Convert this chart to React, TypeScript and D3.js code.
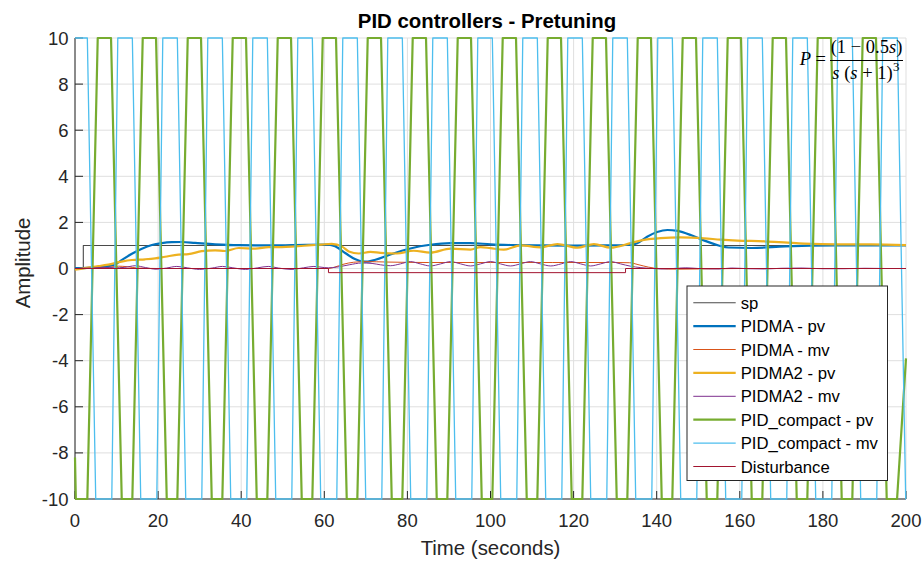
import React from 'react';
import * as d3 from 'd3';

const W = 924;
const H = 561;

const xTicks = [0, 20, 40, 60, 80, 100, 120, 140, 160, 180, 200];
const yTicks = [-10, -8, -6, -4, -2, 0, 2, 4, 6, 8, 10];

const titleText = 'PID controllers - Pretuning';
const xLabel = 'Time (seconds)';
const yLabel = 'Amplitude';

// [time (s), value]
const sp = [[0, 0], [2, 0], [2, 1], [200, 1]];

const pidmaPv = [
  [0, 0.02], [3, 0.03], [6, 0.06], [8, 0.1], [9.6, 0.17], [11.2, 0.36], [13.7, 0.64], [16.1, 0.86],
  [18.5, 1.02], [20.9, 1.1], [23.3, 1.14], [25.7, 1.15], [28.9, 1.11], [33.7, 1.05], [39.4, 1.01],
  [47.4, 1.0], [55.4, 1.03], [61, 1.04], [62.6, 0.97], [65.1, 0.66], [67.5, 0.4], [69.1, 0.31],
  [70.5, 0.3], [72.3, 0.38], [75.9, 0.61], [80.7, 0.87], [85.5, 1.03], [90.4, 1.1], [95.2, 1.1],
  [100, 1.05], [104.8, 1.02], [111, 1.0], [120, 0.99], [128, 1.0], [133.7, 1.03], [135.3, 1.1],
  [137.7, 1.38], [140.1, 1.58], [142.6, 1.67], [145, 1.63], [148.2, 1.45], [150.9, 1.25],
  [154.9, 1.0], [157.3, 0.91], [162.9, 0.89], [170.9, 0.96], [183, 1.0], [200, 1.0],
];

const pidmaMv = [
  [0, 0], [6, 0.01], [8.5, 0.06], [10.5, 0.1], [12.5, 0.08], [15, 0.02], [20, 0], [40, 0], [61, 0],
  [62.5, 0.06], [64.5, 0.18], [67, 0.27], [70, 0.3], [75, 0.28], [85, 0.26], [100, 0.26], [115, 0.26],
  [130, 0.26], [133.5, 0.25], [135.5, 0.17], [138, 0.06], [140.5, 0.0], [145, -0.03], [150, -0.02],
  [160, 0], [200, 0],
];

const pidma2Pv = [
  [0, -0.05], [2.4, 0.02], [5.6, 0.1], [8, 0.17], [11.2, 0.3], [13.7, 0.37], [16.9, 0.4], [19.3, 0.44],
  [21.7, 0.51], [24.9, 0.6], [27.3, 0.62], [30.5, 0.75], [33.7, 0.79], [36.1, 0.76], [39.4, 0.89],
  [43.4, 0.86], [46.6, 0.93], [49.8, 0.93], [53, 0.96], [56.2, 1.0], [59.4, 1.04], [61.8, 1.07],
  [64.3, 0.95], [65.9, 0.74], [68.3, 0.65], [71.1, 0.72], [73.5, 0.68], [77.5, 0.65], [81.5, 0.77],
  [85.5, 0.69], [90.4, 0.86], [95.2, 0.82], [97.6, 0.93], [100, 0.88], [103.2, 0.82], [107.3, 1.0],
  [112.1, 0.92], [116.1, 1.06], [120.9, 0.9], [124.9, 1.06], [128.9, 0.9], [133.7, 1.1], [136.9, 1.24],
  [140.9, 1.32], [145.7, 1.35], [151.4, 1.31], [155.4, 1.25], [159.4, 1.21], [165.9, 1.18],
  [171.5, 1.12], [175.5, 1.08], [183.5, 1.05], [191.6, 1.05], [200, 1.01],
];

const pidma2Mv = [
  [0, 0], [4, 0.02], [7, 0.05], [9.5, 0.03], [12, 0.05], [14.5, 0.12], [17, 0.04], [19.5, -0.03],
  [22, 0.02], [24.5, 0.09], [27, 0.03], [30, -0.04], [33, 0.02], [35.5, 0.09], [38, 0.03], [41, -0.04],
  [44, 0.03], [46.5, 0.09], [49, 0.02], [52, -0.04], [55, 0.03], [57.5, 0.09], [60, 0.04], [61, 0.03],
  [63, 0.06], [66, 0.16], [69, 0.24], [71.5, 0.22], [73.5, 0.16], [75.9, 0.12], [78.3, 0.2], [80.7, 0.3],
  [83.1, 0.2], [85.5, 0.11], [88, 0.2], [90.4, 0.3], [92.8, 0.2], [95.2, 0.11], [97.6, 0.2], [100, 0.3],
  [102.4, 0.2], [104.8, 0.11], [107.2, 0.2], [109.6, 0.3], [112, 0.2], [114.5, 0.11], [117, 0.2],
  [119.3, 0.3], [121.7, 0.2], [124.1, 0.11], [126.5, 0.2], [128.9, 0.3], [131.3, 0.2], [133.7, 0.1],
  [136, 0.04], [139, 0.0], [141, -0.02], [144, 0.0], [147, 0.03], [150, 0.0], [155, -0.02], [158, 0.02],
  [162, -0.01], [166, -0.02], [170, 0.01], [175, 0.02], [180, -0.01], [185, -0.01], [190, 0.01],
  [195, 0.0], [200, 0.0],
];

const compactPv = [
  [0, -8.2], [0.2, -10], [2.97, -10],
  [5.47, 10], [8.67, 10], [11.25, -10], [13.8, -10],
  [16.3, 10], [19.5, 10], [22.08, -10], [24.63, -10],
  [27.13, 10], [30.33, 10], [32.91, -10], [35.46, -10],
  [37.96, 10], [41.16, 10], [43.74, -10], [46.29, -10],
  [48.79, 10], [51.99, 10], [54.57, -10], [57.12, -10],
  [59.62, 10], [62.82, 10], [65.4, -10], [67.95, -10],
  [70.45, 10], [73.65, 10], [76.23, -10], [78.78, -10],
  [81.28, 10], [84.48, 10], [87.06, -10], [89.61, -10],
  [92.11, 10], [95.31, 10], [97.89, -10], [100.44, -10],
  [102.94, 10], [106.14, 10], [108.72, -10], [111.27, -10],
  [113.77, 10], [116.97, 10], [119.55, -10], [122.1, -10],
  [124.6, 10], [127.8, 10], [130.38, -10], [132.93, -10],
  [135.43, 10], [138.63, 10], [141.21, -10], [143.76, -10],
  [146.26, 10], [149.46, 10], [152.04, -10], [154.59, -10],
  [157.09, 10], [160.29, 10], [162.87, -10], [165.42, -10],
  [167.92, 10], [171.12, 10], [173.7, -10], [176.25, -10],
  [178.75, 10], [181.95, 10], [184.53, -10], [187.08, -10],
  [189.58, 10], [192.78, 10], [195.36, -10], [197.85, -10],
  [200, -3.9],
];

const compactMv = [
  [0, 10], [2.97, 10],
  [4.99, -10], [8.85, -10], [10.3, 10], [13.8, 10],
  [15.82, -10], [19.68, -10], [21.13, 10], [24.63, 10],
  [26.65, -10], [30.51, -10], [31.96, 10], [35.46, 10],
  [37.48, -10], [41.34, -10], [42.79, 10], [46.29, 10],
  [48.31, -10], [52.17, -10], [53.62, 10], [57.12, 10],
  [59.14, -10], [63.0, -10], [64.45, 10], [67.95, 10],
  [69.97, -10], [73.83, -10], [75.28, 10], [78.78, 10],
  [80.8, -10], [84.66, -10], [86.11, 10], [89.61, 10],
  [91.63, -10], [95.49, -10], [96.94, 10], [100.44, 10],
  [102.46, -10], [106.32, -10], [107.77, 10], [111.27, 10],
  [113.29, -10], [117.15, -10], [118.6, 10], [122.1, 10],
  [124.12, -10], [127.98, -10], [129.43, 10], [132.93, 10],
  [134.95, -10], [138.81, -10], [140.26, 10], [143.76, 10],
  [145.78, -10], [149.64, -10], [151.09, 10], [154.59, 10],
  [156.61, -10], [160.47, -10], [161.92, 10], [165.42, 10],
  [167.44, -10], [171.3, -10], [172.75, 10], [176.25, 10],
  [178.27, -10], [182.13, -10], [183.58, 10], [187.08, 10],
  [189.1, -10], [192.96, -10], [194.41, 10], [197.91, 10],
  [199.93, -10], [200, -10],
];

const disturbance = [[0, 0], [61, 0], [61, -0.18], [132.5, -0.18], [132.5, 0], [200, 0]];

const seriesNames = [
  'sp', 'PIDMA - pv', 'PIDMA - mv', 'PIDMA2 - pv', 'PIDMA2 - mv',
  'PID_compact - pv', 'PID_compact - mv', 'Disturbance',
];
const seriesData = [sp, pidmaPv, pidmaMv, pidma2Pv, pidma2Mv, compactPv, compactMv, disturbance];
const seriesColors = ['#4a4a4a', '#0072BD', '#D95319', '#EDB120', '#7E2F8E', '#77AC30', '#4DBEEE', '#A2142F'];
const seriesWidths = [1.1, 2.2, 1, 2.2, 1, 2.2, 1.3, 1];
const seriesSmooth = [false, true, true, true, true, false, false, false];

const FONT = '"Liberation Sans", Arial, Helvetica, sans-serif';
const TXT = '#262626';

export default function App() {
  const x = d3.scaleLinear().domain([0, 200]).range([75, 906]);
  const y = d3.scaleLinear().domain([-10, 10]).range([499, 38]);
  const lineLinear = d3.line<number[]>().x((d) => x(d[0])).y((d) => y(d[1]));
  const lineSmooth = d3
    .line<number[]>()
    .x((d) => x(d[0]))
    .y((d) => y(d[1]))
    .curve(d3.curveMonotoneX);

  const [x0, x1] = x.range();
  const [yb, yt] = y.range();

  const legX = 687;
  const legY = 286;
  const legW = 200.5;
  const legH = 194.5;
  const rowH = 23.4;

  return (
    <svg
      width={W}
      height={H}
      viewBox={`0 0 ${W} ${H}`}
      style={{ position: 'absolute', left: 0, top: 0, background: '#fff' }}
      fontFamily={FONT}
    >
      <rect x={0} y={0} width={W} height={H} fill="#fff" />
      <defs>
        <clipPath id="plotclip">
          <rect x={x0 - 2} y={yt - 2} width={x1 - x0 + 4} height={yb - yt + 4} />
        </clipPath>
      </defs>

      {/* grid */}
      <g stroke="#dfdfdf" strokeWidth={1}>
        {xTicks.map((t) => (
          <line key={'gx' + t} x1={x(t)} x2={x(t)} y1={yt} y2={yb} />
        ))}
        {yTicks.map((t) => (
          <line key={'gy' + t} x1={x0} x2={x1} y1={y(t)} y2={y(t)} />
        ))}
      </g>

      {/* axes */}
      <g stroke={TXT} strokeWidth={1}>
        <line x1={x0} x2={x0} y1={yt} y2={yb} />
        <line x1={x0} x2={x1} y1={yb} y2={yb} />
        {xTicks.map((t) => (
          <line key={'tx' + t} x1={x(t)} x2={x(t)} y1={yb} y2={yb - 8} />
        ))}
        {yTicks.map((t) => (
          <line key={'ty' + t} x1={x0} x2={x0 + 8} y1={y(t)} y2={y(t)} />
        ))}
      </g>

      {/* series */}
      <g clipPath="url(#plotclip)" fill="none" strokeLinejoin="round">
        {seriesData.map((d, i) => (
          <path
            key={seriesNames[i]}
            d={(seriesSmooth[i] ? lineSmooth : lineLinear)(d) || ''}
            stroke={seriesColors[i]}
            strokeWidth={seriesWidths[i]}
          />
        ))}
      </g>

      {/* tick labels */}
      <g fill={TXT} fontSize={18.5}>
        {xTicks.map((t) => (
          <text key={'lx' + t} x={x(t)} y={527} textAnchor="middle">
            {t}
          </text>
        ))}
        {yTicks.map((t) => (
          <text key={'ly' + t} x={68.5} y={y(t) + 6.5} textAnchor="end">
            {t}
          </text>
        ))}
      </g>

      {/* labels */}
      <text x={487} y={28} textAnchor="middle" fontWeight="bold" fontSize={20.4} fill="#000">
        {titleText}
      </text>
      <text x={490.5} y={555} textAnchor="middle" fontSize={20.4} fill={TXT}>
        {xLabel}
      </text>
      <text
        transform="translate(30,263) rotate(-90)"
        textAnchor="middle"
        fontSize={20.4}
        fill={TXT}
      >
        {yLabel}
      </text>

      {/* formula */}
      <g fontFamily='"Liberation Serif", "Times New Roman", serif' fontSize={18.5} fill="#000">
        <text x={826} y={65} textAnchor="end">
          <tspan fontStyle="italic">P</tspan>
          <tspan> =</tspan>
        </text>
        <text x={866.5} y={53} textAnchor="middle">
          <tspan>(1 − 0.5</tspan>
          <tspan fontStyle="italic">s</tspan>
          <tspan>)</tspan>
        </text>
        <line x1={830} x2={903} y1={60.5} y2={60.5} stroke="#000" strokeWidth={1} />
        <text x={862.5} y={79} textAnchor="middle">
          <tspan fontStyle="italic">s</tspan>
          <tspan> (</tspan>
          <tspan fontStyle="italic">s</tspan>
          <tspan> + 1)</tspan>
        </text>
        <text x={893} y={71} fontSize={13}>
          3
        </text>
      </g>

      {/* legend */}
      <g>
        <rect x={legX} y={legY} width={legW} height={legH} fill="#fff" stroke={TXT} strokeWidth={1} />
        {seriesNames.map((name, i) => {
          const cy = legY + 16.7 + i * rowH;
          return (
            <g key={'leg' + name}>
              <line
                x1={693.3}
                x2={735.7}
                y1={cy}
                y2={cy}
                stroke={seriesColors[i]}
                strokeWidth={seriesWidths[i]}
              />
              <text x={740.7} y={cy + 6} fontSize={16.7} fill="#000">
                {name}
              </text>
            </g>
          );
        })}
      </g>
    </svg>
  );
}
